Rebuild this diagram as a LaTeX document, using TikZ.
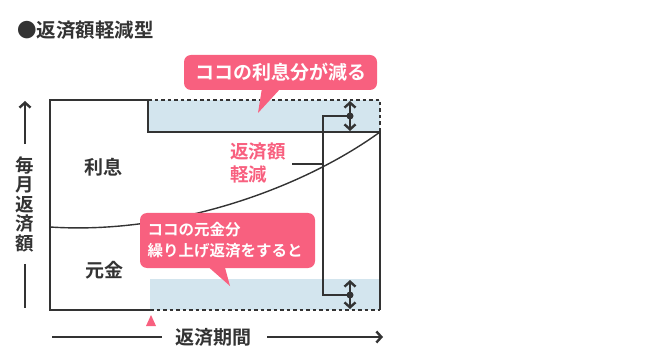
\documentclass[tikz,border=0pt]{standalone}
\usepackage{fontspec}
\newfontfamily\jp{Noto Sans CJK JP}[BoldFont={Noto Sans CJK JP Bold}]
\usepackage{tikz}
\usetikzlibrary{arrows.meta,positioning,calc}
\definecolor{ink}{HTML}{333333}
\definecolor{pinkc}{HTML}{F8607F}
\definecolor{bandc}{HTML}{D3E5EE}
\tikzset{
  frame/.style  ={draw=ink, line width=2.4pt},
  dashfr/.style ={draw=ink, line width=2.4pt, dash pattern=on 3.5pt off 3pt},
  band/.style   ={fill=bandc, draw=none},
  callout/.style={fill=pinkc, rounded corners=7pt, text=white, font=\jp\bfseries, inner sep=0pt, align=left},
  lbl/.style    ={text=ink, font=\jp\bfseries\fontsize{18}{20}\selectfont, inner sep=0pt},
  arr/.style    ={draw=ink, line width=2.4pt, -{Straight Barb[length=5pt,width=11pt,line width=2.4pt]}},
  dbl/.style    ={draw=ink, line width=2.4pt, {Straight Barb[length=5pt,width=11pt,line width=2.4pt]}-{Straight Barb[length=5pt,width=11pt,line width=2.4pt]}},
  dot/.style    ={circle, fill=ink, minimum size=7pt, inner sep=0pt},
}
\begin{document}
\begin{tikzpicture}[x=1pt,y=-1pt]
  \useasboundingbox (0,0) rectangle (650,363);
  % title
  \node[lbl, anchor=west, font=\jp\bfseries\fontsize{19.5}{21}\selectfont] (title) at (17,30) {●返済額軽減型};
  % blue bands
  \fill[band] (148,100) rectangle (380,132);
  \fill[band] (150,279) rectangle (380,310);
  % frame
  \coordinate (tl) at (50,100);
  \coordinate (bl) at (50,310);
  \coordinate (br) at (380,310);
  \coordinate (tr) at (380,100);
  \coordinate (st) at (148,100);
  \coordinate (sb) at (148,132);
  \coordinate (sr) at (380,132);
  \coordinate (bm) at (150,310);
  \draw[frame] (st) -- (tl) -- (bl) -- (bm);
  \draw[frame] (st) -- (sb) -- (sr) -- (br);
  \draw[dashfr] (st) -- (tr) -- (sr);
  \draw[dashfr] (bm) -- (br);
  % curve
  \coordinate (c0) at (50,227);
  \draw[ink, line width=1.4pt] (c0) .. controls (170,235) and (300,190) .. (sr);
  % section labels
  \node[lbl, font=\jp\bfseries\fontsize{19}{21}\selectfont] (ri) at (103,167) {利息};
  \node[lbl, font=\jp\bfseries\fontsize{19}{21}\selectfont] (gk) at (104,270) {元金};
  % bracket
  \coordinate (bt) at (323,116);
  \coordinate (bb) at (323,295);
  \node[dot] (dt) at (350,116) {};
  \node[dot] (db) at (350,295) {};
  \draw[frame, line cap=butt] (dt.center) -- (bt) -- (bb) -- (db.center);
  \coordinate (a1) at (350,101);
  \coordinate (a2) at (350,131);
  \coordinate (a3) at (350,280);
  \coordinate (a4) at (350,309);
  \draw[dbl] (a1) -- (a2);
  \draw[dbl] (a3) -- (a4);
  % reduction label
  \node[lbl, text=pinkc, align=left, font=\jp\bfseries\fontsize{18.5}{23}\selectfont] (gen) at (258,163) {返済額\\軽減};
  \coordinate (bm2) at (323,164);
  \draw[frame] (292,164) -- (bm2);
  % callouts
  \node[callout, minimum width=193pt, minimum height=35pt, font=\jp\bfseries\fontsize{19}{20}\selectfont] (co1) at (280.5,72.5) {ココの利息分が減る};
  \fill[pinkc] (262,88) -- (258,113) -- (281,88) -- cycle;
  \node[callout, minimum width=175pt, minimum height=55pt, text width=160pt, font=\jp\bfseries\fontsize{15.5}{21}\selectfont] (co2) at (227.5,240.5) {ココの元金分\\繰り上げ返済をすると};
  \fill[pinkc] (205,264) -- (230,286) -- (224,264) -- cycle;
  % marker
  \fill[pinkc] (151,315) -- (156,326) -- (146,326) -- cycle;
  % x axis
  \node[lbl, font=\jp\bfseries\fontsize{19}{21}\selectfont] (xl) at (213,337) {返済期間};
  \coordinate (x0) at (52,337);
  \coordinate (x1) at (383,337);
  \draw[frame] (x0) -- ($(xl.west)+(-13,0)$);
  \draw[arr] ($(xl.east)+(16,0)$) -- (x1);
  % y axis
  \node[lbl, align=center, font=\jp\bfseries\fontsize{18.5}{19.5}\selectfont] (yl) at (25,204) {毎\\月\\返\\済\\額};
  \coordinate (y0) at (25,308);
  \coordinate (y1) at (25,101);
  \draw[arr] ($(yl.north)+(0,-12)$) -- (y1);
  \draw[frame] ($(yl.south)+(0,12)$) -- (y0);
\end{tikzpicture}
\end{document}
